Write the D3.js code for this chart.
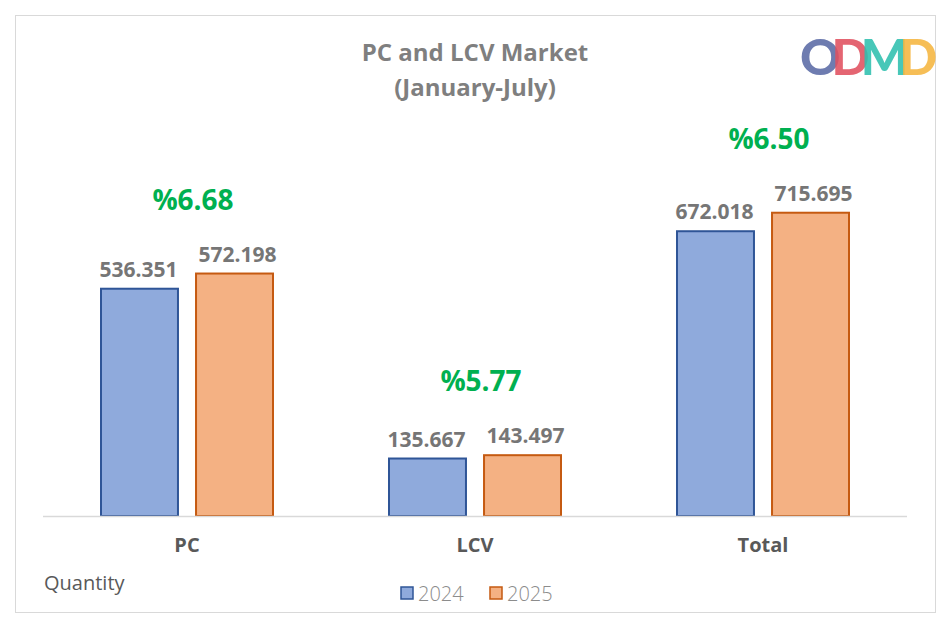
<!DOCTYPE html>
<html>
<head>
<meta charset="utf-8">
<style>
  body { margin: 0; background: #fff; }
  svg { font-family: "Open Sans", "Lato", sans-serif; }
</style>
</head>
<body>
<svg id="chart" width="950" height="629"></svg>
<script src="https://cdn.jsdelivr.net/npm/d3@7"></script>
<script>
var categories = ["PC", "LCV", "Total"];
var series = ["2024", "2025"];
var values2024 = [536351, 135667, 672018];
var values2025 = [572198, 143497, 715695];
var labels2024 = ["536.351", "135.667", "672.018"];
var labels2025 = ["572.198", "143.497", "715.695"];
var growth = ["%6.68", "%5.77", "%6.50"];

var fills = ["#8faadc", "#f4b183"];
var strokes = ["#2f5597", "#c55a11"];

var svg = d3.select("#chart");

svg.append("rect")
    .attr("x", 15.5).attr("y", 15.5).attr("width", 920).attr("height", 597)
    .attr("fill", "#fff").attr("stroke", "#d9d9d9");

var x = d3.scaleBand().domain(categories).range([43, 907]);
var inner = d3.scaleBand().domain(series).range([0, 172]).paddingInner(0.19);
var y = d3.scaleLinear().domain([0, 800000]).range([516, 177]);

var data = categories.map(function (c, i) {
    return { cat: c, vals: [values2024[i], values2025[i]], labs: [labels2024[i], labels2025[i]], g: growth[i] };
});

var groups = svg.selectAll("g.grp").data(data).enter().append("g")
    .attr("transform", function (d) { return "translate(" + (x(d.cat) + x.bandwidth() / 2 - 86) + ",0)"; });

series.forEach(function (s, si) {
    groups.append("rect")
        .attr("x", inner(s)).attr("width", inner.bandwidth())
        .attr("y", function (d) { return y(d.vals[si]); })
        .attr("height", function (d) { return 516 - y(d.vals[si]); })
        .attr("fill", fills[si]).attr("stroke", strokes[si]).attr("stroke-width", 2);
    groups.append("text")
        .attr("x", inner(s) + inner.bandwidth() / 2 + (si ? 3 : -1))
        .attr("y", function (d) { return y(d.vals[si]) - 12; })
        .attr("text-anchor", "middle").attr("font-size", 21).attr("font-weight", "bold")
        .attr("fill", "#767676")
        .text(function (d) { return d.labs[si]; });
});

groups.append("text")
    .attr("x", 92)
    .attr("y", function (d) { return y(d3.max(d.vals)) - 64; })
    .attr("text-anchor", "middle").attr("font-size", 28).attr("font-weight", "bold")
    .attr("fill", "#00b050")
    .text(function (d) { return d.g; });

svg.append("line").attr("x1", 43).attr("x2", 907).attr("y1", 516.5).attr("y2", 516.5)
    .attr("stroke", "#d9d9d9").attr("stroke-width", 1.5);

var xAxis = svg.append("g").attr("transform", "translate(0,516)")
    .call(d3.axisBottom(x).tickSize(0).tickPadding(22));
xAxis.select(".domain").remove();
xAxis.selectAll("text").attr("font-size", 20).attr("font-weight", "bold")
    .attr("fill", "#595959").attr("font-family", "Open Sans, sans-serif");

svg.append("text").attr("x", 475).attr("y", 61).attr("text-anchor", "middle")
    .attr("font-size", 24).attr("font-weight", "bold").attr("fill", "#7f7f7f").text("PC and LCV Market");
svg.append("text").attr("x", 475).attr("y", 96).attr("text-anchor", "middle")
    .attr("font-size", 24).attr("font-weight", "bold").attr("fill", "#7f7f7f").text("(January-July)");

svg.append("text").attr("x", 44).attr("y", 590).attr("font-size", 20)
    .attr("fill", "#595959").text("Quantity");

var leg = svg.append("g").attr("transform", "translate(401,593)");
series.forEach(function (s, i) {
    var gx = i * 89;
    leg.append("rect").attr("x", gx).attr("y", -6).attr("width", 12).attr("height", 12)
        .attr("fill", fills[i]).attr("stroke", strokes[i]).attr("stroke-width", 1.5);
    leg.append("text").attr("x", gx + 17).attr("y", 8).attr("font-size", 20).attr("font-weight", 300)
        .attr("fill", "#8c8c8c").text(s);
});

// logo: one text, letters overlapping
var logoLetters = ["O", "D", "M", "D"];
var logoColors = ["#5a6aa5", "#e0505e", "#2fbfae", "#f5b53f"];
var logo = svg.append("text").attr("x", 800).attr("y", 75).attr("font-size", 50)
    .attr("font-weight", "900").attr("font-family", "Lato, sans-serif");
logoLetters.forEach(function (l, i) {
    logo.append("tspan").attr("dx", i ? -9 : 0).attr("fill", logoColors[i])
        .attr("fill-opacity", 0.88).text(l);
});
</script>
</body>
</html>
